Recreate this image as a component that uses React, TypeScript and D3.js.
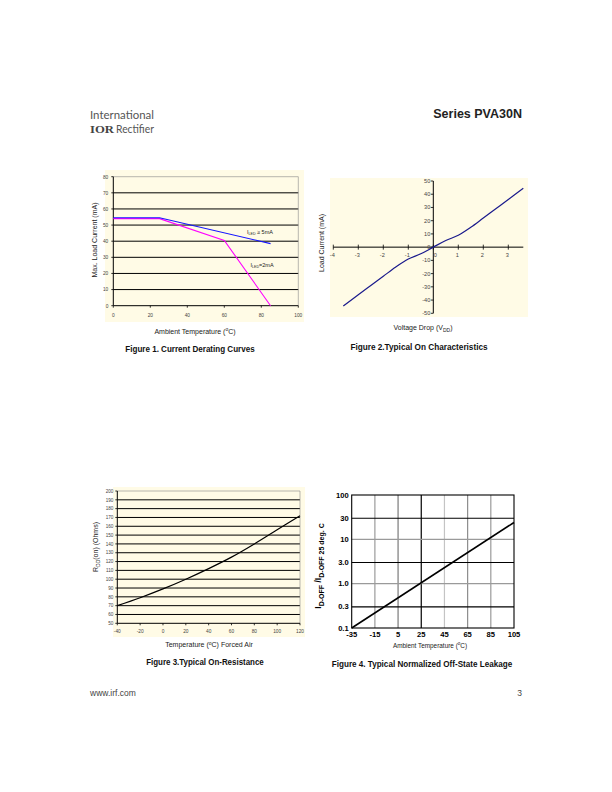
import React from "react";
import * as d3 from "d3";

// ---------- DATA ----------
const fig1TempHigh = [0, 25, 85];
const fig1CurrHigh = [54.5, 54.5, 38.5];
const fig1TempLow = [0, 25, 60, 85];
const fig1CurrLow = [54, 54, 40.5, 0];
const fig1XTicks = [0, 20, 40, 60, 80, 100];
const fig1YTicks = [0, 10, 20, 30, 40, 50, 60, 70, 80];

const fig2Volt = [-3.6, -3, -2.5, -2, -1.5, -1, -0.5, 0, 0.5, 1, 1.5, 2, 2.5, 3, 3.6];
const fig2Curr = [-44.5, -36, -29, -22, -15, -9, -5, 0, 5, 9, 15, 22, 29, 36, 44.5];
const fig2XTicks = [-4, -3, -2, -1, 0, 1, 2, 3];
const fig2YTicks = [-50, -40, -30, -20, -10, 0, 10, 20, 30, 40, 50];

const fig3Temp = [-40, -20, 0, 20, 40, 60, 80, 100, 120];
const fig3Res = [70, 79, 89, 100, 112, 125, 140, 156, 172];
const fig3XTicks = [-40, -20, 0, 20, 40, 60, 80, 100, 120];
const fig3YTicks = [50, 60, 70, 80, 90, 100, 110, 120, 130, 140, 150, 160, 170, 180, 190, 200];

const fig4Temp = [-35, 105];
const fig4Leak = [0.1, 24];
const fig4XTicks = [-35, -15, 5, 25, 45, 65, 85, 105];
const fig4YTicks = [0.1, 0.3, 1, 3, 10, 30, 100];
const fig4YLabels = ["0.1", "0.3", "1.0", "3.0", "10", "30", "100"];
const fig4VGridShade = ["#9a9a9a", "#7a7a7a", "#000000", "#c4c4c4", "#8c8c8c", "#9a9a9a"];
const fig4HGridShade = ["#000000", "#9a9a9a", "#000000", "#9a9a9a", "#000000"];

const SANS = "Liberation Sans, Arial, sans-serif";
const NARROW = "Liberation Sans Narrow, Liberation Sans, Arial, sans-serif";
const CREAM = "#fffbe6";
const TXT = "#222";

function Title({ x, y, text }: { x: number; y: number; text: string }) {
  return (
    <text x={x} y={y} fontSize={8.8} textAnchor="middle" fontWeight="bold" fill="#111"
      fontFamily={NARROW} textLength={text.length * 3.92} lengthAdjust="spacingAndGlyphs">
      {text}
    </text>
  );
}

function Fig1() {
  const x = d3.scaleLinear().domain([0, 100]).range([113.3, 298.3]);
  const y = d3.scaleLinear().domain([0, 80]).range([305.7, 176.7]);
  const mk = (xs: number[], ys: number[]) =>
    d3.line<number>().x((d) => x(d)).y((_, i) => y(ys[i]))(xs) || "";
  return (
    <g>
      <rect x={105} y={170} width={199} height={152} fill={CREAM} />
      {fig1YTicks.filter((t) => t > 0).map((t) => (
        <line key={t} x1={x(0)} x2={x(100)} y1={y(t)} y2={y(t)}
          stroke={t === 80 ? "#888" : "#000"} strokeWidth={t === 80 ? 0.6 : 1} />
      ))}
      <line x1={x(100)} x2={x(100)} y1={y(80)} y2={y(0)} stroke="#888" strokeWidth={0.6} />
      <line x1={x(0)} x2={x(0)} y1={y(80)} y2={y(0)} stroke="#000" strokeWidth={1} />
      <line x1={x(0)} x2={x(100)} y1={y(0)} y2={y(0)} stroke="#000" strokeWidth={1} />
      {fig1YTicks.map((t) => (
        <g key={t}>
          <line x1={x(0) - 2} x2={x(0)} y1={y(t)} y2={y(t)} stroke="#000" strokeWidth={0.8} />
          <text x={x(0) - 5} y={y(t) + 1.8} fontSize={4.8} textAnchor="end" fill="#444" fontFamily={SANS}>{t}</text>
        </g>
      ))}
      {fig1XTicks.map((t) => (
        <g key={t}>
          <line x1={x(t)} x2={x(t)} y1={y(0)} y2={y(0) + 2} stroke="#000" strokeWidth={0.8} />
          <text x={x(t)} y={y(0) + 11} fontSize={4.8} textAnchor="middle" fill="#444" fontFamily={SANS}>{t}</text>
        </g>
      ))}
      <path d={mk(fig1TempLow, fig1CurrLow)} fill="none" stroke="#ff00ff" strokeWidth={1.1} />
      <path d={mk(fig1TempHigh, fig1CurrHigh)} fill="none" stroke="#1414ff" strokeWidth={1.1} />
      <text x={247} y={234} fontSize={5.5} fill={TXT} fontFamily={SANS}>
        I<tspan fontSize={3.6} dy={1.2}>LED</tspan><tspan dy={-1.2}> ≥ 5mA</tspan>
      </text>
      <text x={250.5} y={266.5} fontSize={5.5} fill={TXT} fontFamily={SANS}>
        I<tspan fontSize={3.6} dy={1.2}>LED</tspan><tspan dy={-1.2}>=2mA</tspan>
      </text>
      <text transform="translate(97,240) rotate(-90)" fontSize={7} textAnchor="middle" fill={TXT} fontFamily={SANS}>
        Max. Load Current (mA)
      </text>
      <text x={195} y={333.5} fontSize={7} textAnchor="middle" fill={TXT} fontFamily={SANS}>
        Ambient Temperature (<tspan fontSize={5} dy={-2.5}>o</tspan><tspan dy={2.5}>C)</tspan>
      </text>
      <Title x={190} y={351.5} text="Figure 1. Current Derating Curves" />
    </g>
  );
}

function Fig2() {
  const x = d3.scaleLinear().domain([-4, 3.6]).range([333.3, 523.3]);
  const y = d3.scaleLinear().domain([-50, 50]).range([313.3, 181]);
  const path =
    d3.line<number>().x((d) => x(d)).y((_, i) => y(fig2Curr[i])).curve(d3.curveCatmullRom)(fig2Volt) || "";
  return (
    <g>
      <rect x={330} y={178} width={198} height={139} fill={CREAM} />
      <line x1={x(-4)} x2={x(3.6)} y1={y(0)} y2={y(0)} stroke="#000" strokeWidth={1} />
      <line x1={x(0)} x2={x(0)} y1={y(50)} y2={y(-50)} stroke="#000" strokeWidth={1} />
      {fig2XTicks.map((t) => (
        <g key={t}>
          <line x1={x(t)} x2={x(t)} y1={y(0) - 2.5} y2={y(0) + 2.5} stroke="#000" strokeWidth={0.8} />
          <text x={x(t) + (t === 0 ? 2 : -1)} y={y(0) + 10} fontSize={5.6} textAnchor="middle" fill="#444" fontFamily={SANS}>{t}</text>
        </g>
      ))}
      {fig2YTicks.map((t) => (
        <g key={t}>
          <line x1={x(0) - 2.5} x2={x(0)} y1={y(t)} y2={y(t)} stroke="#000" strokeWidth={0.8} />
          <text x={x(0) - 3} y={y(t) + 2} fontSize={5.6} textAnchor="end" fill="#444" fontFamily={SANS}>{t}</text>
        </g>
      ))}
      <path d={path} fill="none" stroke="#1a1a8c" strokeWidth={1.2} />
      <text transform="translate(324,243) rotate(-90)" fontSize={7} textAnchor="middle" fill={TXT} fontFamily={SANS}>
        Load Current (mA)
      </text>
      <text x={423} y={330} fontSize={7} textAnchor="middle" fill={TXT} fontFamily={SANS}>
        Voltage Drop (V<tspan fontSize={5} dy={1.5}>DD</tspan><tspan dy={-1.5}>)</tspan>
      </text>
      <Title x={419} y={349.5} text="Figure 2.Typical On Characteristics" />
    </g>
  );
}

function Fig3() {
  const x = d3.scaleLinear().domain([-40, 120]).range([117.3, 300]);
  const y = d3.scaleLinear().domain([50, 200]).range([623.3, 491]);
  const path =
    d3.line<number>().x((d) => x(d)).y((_, i) => y(fig3Res[i])).curve(d3.curveCatmullRom)(fig3Temp) || "";
  return (
    <g>
      <rect x={113} y={487} width={192} height={150} fill={CREAM} />
      {fig3YTicks.filter((t) => t > 50).map((t) => (
        <line key={t} x1={x(-40)} x2={x(120)} y1={y(t)} y2={y(t)}
          stroke={t === 200 ? "#888" : "#000"} strokeWidth={t === 200 ? 0.6 : 1} />
      ))}
      <line x1={x(120)} x2={x(120)} y1={y(200)} y2={y(50)} stroke="#888" strokeWidth={0.6} />
      <line x1={x(-40)} x2={x(-40)} y1={y(200)} y2={y(50)} stroke="#000" strokeWidth={1} />
      <line x1={x(-40)} x2={x(120)} y1={y(50)} y2={y(50)} stroke="#000" strokeWidth={1} />
      {fig3YTicks.map((t) => (
        <g key={t}>
          <line x1={x(-40) - 2} x2={x(-40)} y1={y(t)} y2={y(t)} stroke="#000" strokeWidth={0.8} />
          <text x={x(-40) - 4} y={y(t) + 1.7} fontSize={4.6} textAnchor="end" fill="#444" fontFamily={SANS}>{t}</text>
        </g>
      ))}
      {fig3XTicks.map((t) => (
        <g key={t}>
          <line x1={x(t)} x2={x(t)} y1={y(50)} y2={y(50) + 2} stroke="#000" strokeWidth={0.8} />
          <text x={x(t)} y={y(50) + 10} fontSize={4.8} textAnchor="middle" fill="#444" fontFamily={SANS}>{t}</text>
        </g>
      ))}
      <path d={path} fill="none" stroke="#000" strokeWidth={1.2} />
      <text transform="translate(98,547) rotate(-90)" fontSize={7} textAnchor="middle" fill={TXT} fontFamily={SANS}>
        R<tspan fontSize={5} dy={1.5}>DD</tspan><tspan dy={-1.5}>(on) (Ohms)</tspan>
      </text>
      <text x={209} y={647} fontSize={7} textAnchor="middle" fill={TXT} fontFamily={SANS}>
        Temperature (<tspan fontSize={5} dy={-2.5}>o</tspan><tspan dy={2.5}>C) Forced Air</tspan>
      </text>
      <Title x={205} y={665} text="Figure 3.Typical On-Resistance" />
    </g>
  );
}

function Fig4() {
  const x = d3.scaleLinear().domain([-35, 105]).range([351.7, 514]);
  const y = d3.scaleLog().domain([0.1, 100]).range([628, 495]);
  const path =
    d3.line<number>().x((d) => x(d)).y((_, i) => y(fig4Leak[i]))(fig4Temp) || "";
  const innerX = fig4XTicks.slice(1, -1);
  const innerY = fig4YTicks.slice(1, -1).reverse();
  return (
    <g>
      {innerX.map((t, i) => (
        <line key={t} x1={x(t)} x2={x(t)} y1={y(100)} y2={y(0.1)} stroke={fig4VGridShade[i]} strokeWidth={1.2} />
      ))}
      {innerY.map((t, i) => (
        <line key={t} x1={x(-35)} x2={x(105)} y1={y(t)} y2={y(t)} stroke={fig4HGridShade[i]} strokeWidth={1.1} />
      ))}
      <rect x={x(-35)} y={y(100)} width={x(105) - x(-35)} height={y(0.1) - y(100)} fill="none" stroke="#000" strokeWidth={1.1} />
      {fig4YTicks.map((t, i) => (
        <text key={t} x={x(-35) - 3} y={y(t) + 2.6} fontSize={7.6} fontWeight="bold" textAnchor="end" fill="#000" fontFamily={SANS}>
          {fig4YLabels[i]}
        </text>
      ))}
      {fig4XTicks.map((t) => (
        <text key={t} x={x(t)} y={y(0.1) + 9} fontSize={7.6} fontWeight="bold" textAnchor="middle" fill="#000" fontFamily={SANS}>{t}</text>
      ))}
      <path d={path} fill="none" stroke="#000" strokeWidth={1.6} />
      <text transform="translate(321,566) rotate(-90)" fontSize={8.6} fontWeight="bold" textAnchor="middle" fill="#000" fontFamily={SANS}>
        I<tspan fontSize={7} dy={3}>D-OFF</tspan><tspan dy={-3}> /I</tspan><tspan fontSize={7} dy={3}>D-OFF 25 deg. C</tspan>
      </text>
      <text x={430} y={647.5} fontSize={6.4} textAnchor="middle" fill={TXT} fontFamily={SANS}>
        Ambient Temperature (<tspan fontSize={4.6} dy={-2.5}>o</tspan><tspan dy={2.5}>C)</tspan>
      </text>
      <Title x={422} y={667} text="Figure 4. Typical Normalized Off-State Leakage" />
    </g>
  );
}

export default function App() {
  return (
    <svg width={612} height={792} style={{ position: "absolute", left: 0, top: 0, background: "#fff" }}>
      <rect x={0} y={0} width={612} height={792} fill="#fff" />
      <text x={90} y={119} fontSize={12} fill="#555" fontFamily="Lato, Open Sans, sans-serif"
        textLength={64} lengthAdjust="spacingAndGlyphs">International</text>
      <text x={90} y={133} fontSize={9.5} fill="#444" fontFamily="Liberation Serif, serif" fontWeight="bold"
        textLength={24} lengthAdjust="spacingAndGlyphs">IOR</text>
      <text x={116} y={133} fontSize={12} fill="#555" fontFamily="Lato, Open Sans, sans-serif"
        textLength={38} lengthAdjust="spacingAndGlyphs">Rectifier</text>
      <text x={522} y={118} fontSize={12.5} fontWeight="bold" textAnchor="end" fill="#222" fontFamily={SANS}>Series  PVA30N</text>
      <Fig1 />
      <Fig2 />
      <Fig3 />
      <Fig4 />
      <text x={90} y={696} fontSize={8.5} fill="#444" fontFamily={SANS}>www.irf.com</text>
      <text x={522} y={696} fontSize={8.5} textAnchor="end" fill="#444" fontFamily={SANS}>3</text>
    </svg>
  );
}
